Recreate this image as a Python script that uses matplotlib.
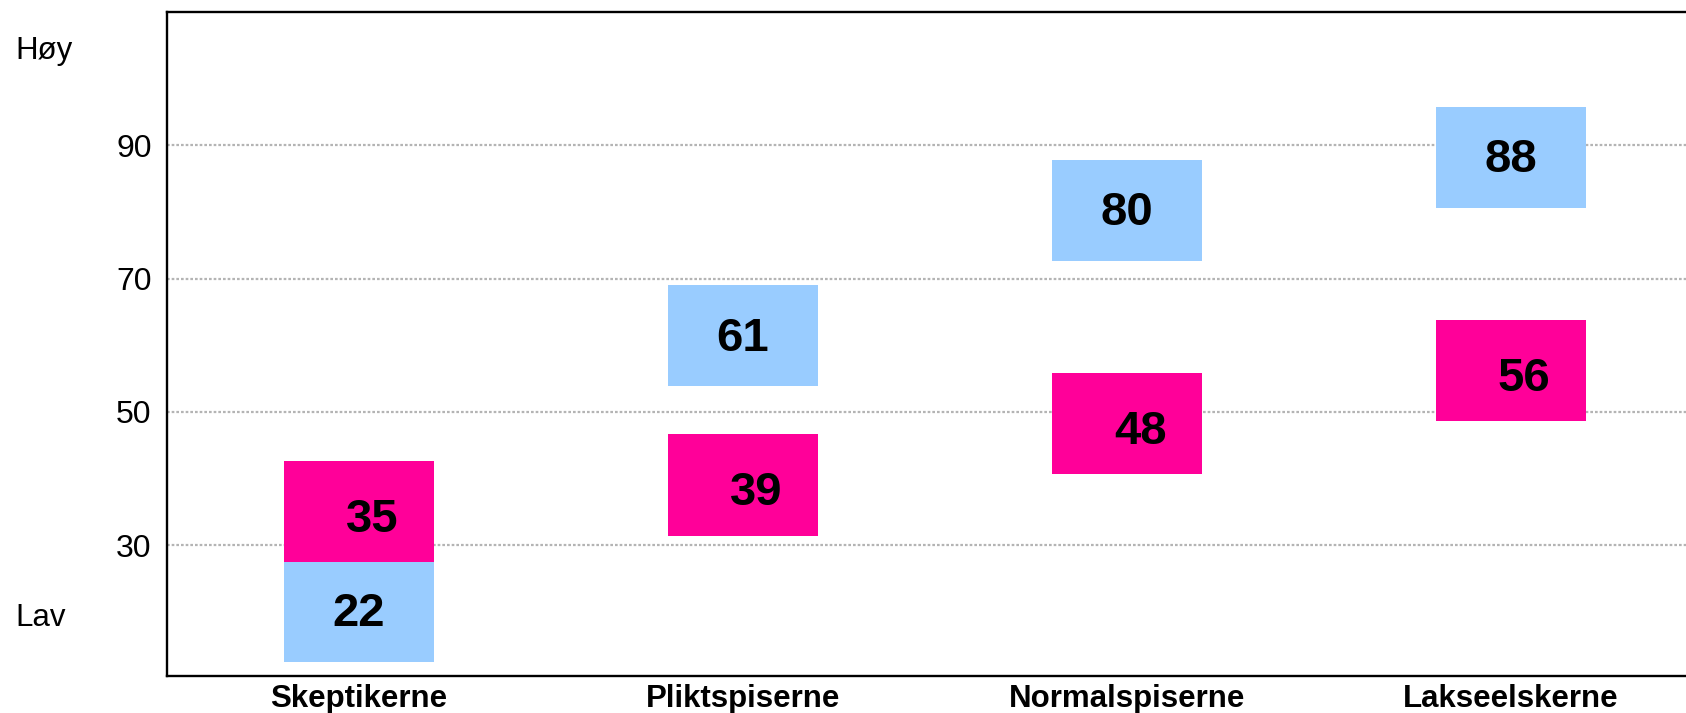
import numpy as np
import matplotlib.pyplot as plt
import matplotlib.transforms as mtransforms

plt.rcParams['font.family'] = ['Liberation Sans', 'DejaVu Sans']

categories = ["Skeptikerne", "Pliktspiserne", "Normalspiserne", "Lakseelskerne"]
blue_mid = [20.0, 61.4, 80.2, 88.2]
blue_labels = ["22", "61", "80", "88"]
pink_mid = [35.0, 39.0, 48.2, 56.2]
pink_labels = ["35", "39", "48", "56"]
y_ticks = [30, 50, 70, 90]

BOX_H = 15.2
BOX_W = 0.39
BLUE = "#99ccff"
PINK = "#ff0099"

fig = plt.figure(figsize=(16.86, 7.13), dpi=100)
ax = fig.add_axes([167 / 1686, 37 / 713, 1536 / 1686, 664 / 713])

x = np.arange(len(categories))
blue_mid = np.array(blue_mid)
pink_mid = np.array(pink_mid)

ax.bar(x, BOX_H, bottom=blue_mid - BOX_H / 2, width=BOX_W, color=BLUE, zorder=3)
ax.bar(x, BOX_H, bottom=pink_mid - BOX_H / 2, width=BOX_W, color=PINK, zorder=3)

for i in range(len(categories)):
    ax.annotate(blue_labels[i], (x[i], blue_mid[i]), xytext=(0, -2), textcoords="offset points",
                ha="center", va="center", fontsize=34, fontweight="bold", zorder=4)
    ax.annotate(pink_labels[i], (x[i], pink_mid[i]), xytext=(9.5, -6), textcoords="offset points",
                ha="center", va="center", fontsize=34, fontweight="bold", zorder=4)

ax.set_xlim(-0.5, 3.5)
ax.set_ylim(10.35, 110)
ax.set_xticks(x)
ax.set_xticklabels(categories, fontsize=22.5, fontweight="bold")
ax.set_yticks(y_ticks)
ax.set_yticklabels([str(v) for v in y_ticks], fontsize=23)
ax.tick_params(axis="x", length=0, pad=6)
ax.tick_params(axis="y", length=0, pad=11)

ax.grid(axis="y", color="#b4b4b4", linestyle=(0, (1.2, 0.9)), linewidth=1.6, zorder=1)
ax.set_axisbelow(True)

for side in ["left", "bottom", "top"]:
    ax.spines[side].set_linewidth(1.7)
    ax.spines[side].set_color("black")
ax.spines["right"].set_visible(False)

# "Høy" / "Lav" sit at the far left of the figure
trans = mtransforms.blended_transform_factory(fig.transFigure, ax.transData)
ax.text(15 / 1686, 104.2, "Høy", transform=trans, ha="left", va="center", fontsize=22.5)
ax.text(15 / 1686, 19.0, "Lav", transform=trans, ha="left", va="center", fontsize=22.5)

fig.savefig("out.png", dpi=100)
